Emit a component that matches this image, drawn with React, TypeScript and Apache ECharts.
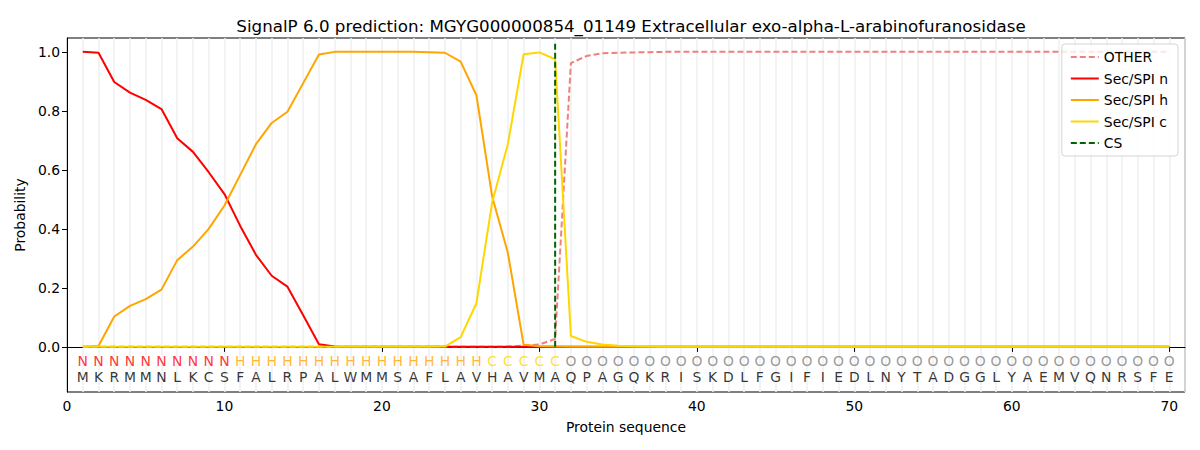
import { useEffect, useRef } from 'react';
import * as echarts from 'echarts';

// residue sequence and SignalP region labels
const sequence = 'MKRMMNLKCSFALRPALWMMSAFLAVHAVMAQPAGQKRISKDLFGIFIEDLNYTADGGLYAEMVQNRSFE'.split('');
const regionLabels = 'NNNNNNNNNNHHHHHHHHHHHHHHHHCCCCCOOOOOOOOOOOOOOOOOOOOOOOOOOOOOOOOOOOOOOO'.split('');

const pad = (head: number[], total = 70) => head.concat(new Array(total - head.length).fill(0));
const padOne = (head: number[], total = 70) => head.concat(new Array(total - head.length).fill(1));

const otherProb = padOne([
  0, 0, 0, 0, 0, 0, 0, 0, 0, 0, 0, 0, 0, 0, 0, 0, 0, 0, 0, 0,
  0, 0, 0, 0, 0, 0, 0, 0.001, 0.004, 0.008, 0.027, 0.962, 0.986, 0.995, 0.997, 0.998, 0.999,
]);
const secN = pad([
  1.0, 0.997, 0.898, 0.862, 0.837, 0.806, 0.707, 0.661, 0.592, 0.518,
  0.41, 0.312, 0.241, 0.204, 0.107, 0.009, 0.001,
]);
const secH = pad([
  0.0, 0.003, 0.103, 0.139, 0.162, 0.194, 0.294, 0.34, 0.40, 0.479,
  0.583, 0.687, 0.759, 0.797, 0.894, 0.991, 1.0, 1.0, 1.0, 1.0,
  1.0, 1.0, 0.999, 0.997, 0.967, 0.853, 0.51, 0.318, 0.007, 0.002, 0.001,
]);
const secC = pad([
  0, 0, 0, 0, 0, 0, 0, 0, 0, 0, 0, 0, 0, 0, 0, 0, 0, 0, 0, 0,
  0, 0, 0, 0.001, 0.033, 0.148, 0.49, 0.688, 0.992, 0.998, 0.975, 0.037, 0.017, 0.008, 0.004, 0.002, 0.001,
]);
const csPosition = 31;
const xTicks = [0, 10, 20, 30, 40, 50, 60, 70];
const yTicks = [0, 0.2, 0.4, 0.6, 0.8, 1.0];

const labelColors: Record<string, string> = { N: '#ff0000', H: '#ffa500', C: '#ffd700', O: '#808080' };
const FONT = 'DejaVu Sans';

function App() {
  const chartRef = useRef<HTMLDivElement>(null);

  useEffect(() => {
    if (!chartRef.current) return;
    const chart = echarts.init(chartRef.current, null, { renderer: 'svg' });

    const toPts = (arr: number[]) => arr.map((v, i) => [i + 1, v]);
    const lineSeries = (name: string, data: number[], color: string, dashed = false) => ({
      name,
      type: 'line',
      data: toPts(data),
      showSymbol: false,
      symbol: 'none',
      xAxisIndex: 0,
      lineStyle: { color, width: 2, type: dashed ? [6, 3] : 'solid' },
      itemStyle: { color },
      z: 3,
    });

    const letterSeries = (letters: string[], y: number, colorOf: (s: string) => string) => ({
      type: 'scatter',
      silent: true,
      symbolSize: 1,
      itemStyle: { color: 'transparent' },
      data: letters.map((s, i) => ({
        value: [i + 1, y],
        name: s,
        label: { color: colorOf(s) },
      })),
      label: {
        show: true,
        position: 'inside',
        formatter: (p: any) => p.name,
        fontFamily: FONT,
        fontSize: 13.9,
      },
      z: 5,
    });

    chart.setOption({
      animation: false,
      textStyle: { fontFamily: FONT },
      title: {
        text: 'SignalP 6.0 prediction: MGYG000000854_01149 Extracellular exo-alpha-L-arabinofuranosidase',
        left: 626,
        top: 12,
        textAlign: 'center',
        textStyle: { fontFamily: FONT, fontSize: 16.7, fontWeight: 'normal', color: '#000' },
      },
      legend: {
        orient: 'vertical',
        right: 22,
        top: 44,
        data: ['OTHER', 'Sec/SPI n', 'Sec/SPI h', 'Sec/SPI c', 'CS'],
        itemWidth: 28,
        itemHeight: 10,
        itemGap: 7.5,
        padding: [6, 10, 6, 8],
        itemStyle: { opacity: 0 },
        backgroundColor: 'rgba(255,255,255,0.8)',
        borderColor: '#d5d5d5',
        borderWidth: 1,
        borderRadius: 3,
        textStyle: { fontFamily: FONT, fontSize: 13.9, color: '#000' },
      },
      grid: {
        left: 67,
        right: 15,
        top: 38,
        bottom: 58,
        show: true,
        borderColor: '#000',
        borderWidth: 1,
        backgroundColor: 'transparent',
      },
      xAxis: [
        {
          type: 'value',
          min: 0,
          max: 71,
          name: 'Protein sequence',
          nameLocation: 'middle',
          nameGap: 28,
          nameTextStyle: { fontFamily: FONT, fontSize: 13.9, color: '#000' },
          axisLine: { show: true, lineStyle: { color: '#000' } },
          axisTick: { show: true, length: 5, lineStyle: { color: '#000' }, customValues: xTicks },
          axisLabel: { color: '#000', fontSize: 13.9, fontFamily: FONT, margin: 7, customValues: xTicks },
          splitLine: { show: false },
        },
        {
          type: 'value',
          min: 0,
          max: 71,
          interval: 1,
          position: 'bottom',
          axisLine: { show: false },
          axisTick: { show: false },
          axisLabel: { show: false },
          splitLine: { show: true, lineStyle: { color: '#efefef', width: 1.5 } },
        },
      ],
      yAxis: {
        type: 'value',
        min: -0.153,
        max: 1.047,
        name: 'Probability',
        nameLocation: 'middle',
        nameGap: 38,
        nameTextStyle: { fontFamily: FONT, fontSize: 13.9, color: '#000' },
        axisLine: { show: true, lineStyle: { color: '#000' } },
        axisTick: { show: true, length: 5, lineStyle: { color: '#000' }, customValues: yTicks },
        axisLabel: {
          color: '#000',
          fontSize: 13.9,
          fontFamily: FONT,
          margin: 7,
          customValues: yTicks,
          formatter: (v: number) => v.toFixed(1),
        },
        splitLine: { show: false },
      },
      series: [
        lineSeries('OTHER', otherProb, '#f08080', true),
        lineSeries('Sec/SPI n', secN, '#ff0000'),
        lineSeries('Sec/SPI h', secH, '#ffa500'),
        lineSeries('Sec/SPI c', secC, '#ffd700'),
        {
          ...lineSeries('CS', [], '#006400', true),
          data: [[csPosition, 0], [csPosition, 1.037]],
          z: 4,
        },
        letterSeries(regionLabels, -0.047, (s) => labelColors[s]),
        letterSeries(sequence, -0.102, () => '#000'),
      ],
    });

    return () => {
      chart.dispose();
    };
  }, []);

  return (
    <div
      ref={chartRef}
      style={{ position: 'fixed', left: 0, top: 0, width: '1200px', height: '450px', background: '#fff' }}
    />
  );
}

export default App;
